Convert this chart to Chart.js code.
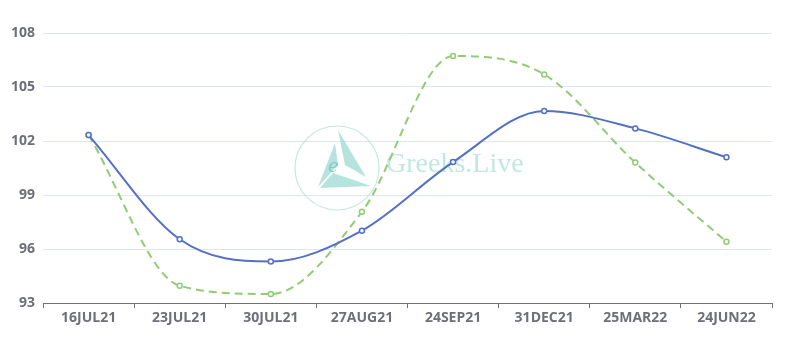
<!DOCTYPE html>
<html>
<head>
<meta charset="utf-8">
<script src="https://cdn.jsdelivr.net/npm/chart.js@4"></script>
<style>
    html, body { margin: 0; padding: 0; background: #fff; }
    #wrap { width: 785px; height: 344px; position: relative; }
</style>
</head>
<body>
<div id="wrap"><canvas id="termChart"></canvas></div>
<script>
var expiries = ['16JUL21', '23JUL21', '30JUL21', '27AUG21', '24SEP21', '31DEC21', '25MAR22', '24JUN22'];
var seriesA = [102.33, 96.54, 95.3, 97.02, 100.83, 103.67, 102.7, 101.1];
var seriesB = [102.33, 93.96, 93.5, 98.07, 106.72, 105.7, 100.8, 96.4];
var yTicks = [93, 96, 99, 102, 105, 108];

var axisGray = '#6E7079';

// faint logo in the middle of the plot
var watermark = {
    id: 'watermark',
    beforeDatasetsDraw: function (chart) {
        var ctx = chart.ctx;
        var cx = 337, cy = 168, r = 42;
        ctx.save();
        ctx.strokeStyle = 'rgba(140, 210, 200, 0.5)';
        ctx.lineWidth = 1.2;
        ctx.beginPath();
        ctx.arc(cx, cy, r, 0, Math.PI * 2);
        ctx.stroke();

        ctx.fillStyle = 'rgba(120, 205, 195, 0.55)';
        ctx.beginPath();
        ctx.moveTo(318, 187);
        ctx.lineTo(335, 143);
        ctx.lineTo(338, 165);
        ctx.closePath();
        ctx.fill();
        ctx.beginPath();
        ctx.moveTo(338, 130);
        ctx.lineTo(366, 177);
        ctx.lineTo(345, 165);
        ctx.closePath();
        ctx.fill();
        ctx.beginPath();
        ctx.moveTo(320, 188);
        ctx.lineTo(371, 186);
        ctx.lineTo(333, 173);
        ctx.closePath();
        ctx.fill();

        ctx.fillStyle = 'rgba(120, 190, 185, 0.7)';
        ctx.font = 'italic 18px "DejaVu Serif", serif';
        ctx.fillText('e', 328, 172);

        ctx.font = '28px "Liberation Serif", serif';
        ctx.fillStyle = 'rgba(150, 215, 205, 0.6)';
        ctx.textBaseline = 'middle';
        ctx.fillText('Greeks.Live', 386, 165);
        ctx.restore();
    }
};

function buildChart() {
    var ctx = document.getElementById('termChart').getContext('2d');
    return new Chart(ctx, {
        type: 'line',
        data: {
            labels: expiries,
            datasets: [
                {
                    data: seriesA,
                    borderColor: '#5470c6',
                    backgroundColor: '#ffffff',
                    borderWidth: 2,
                    cubicInterpolationMode: 'monotone',
                    pointRadius: 2.5,
                    pointBorderWidth: 1.5,
                    pointBackgroundColor: '#ffffff',
                    pointBorderColor: '#5470c6'
                },
                {
                    data: seriesB,
                    borderColor: '#91cc75',
                    backgroundColor: '#ffffff',
                    borderWidth: 2,
                    borderDash: [8, 5],
                    cubicInterpolationMode: 'monotone',
                    pointRadius: 2.5,
                    pointBorderWidth: 1.5,
                    pointBackgroundColor: '#ffffff',
                    pointBorderColor: '#91cc75'
                }
            ]
        },
        options: {
            responsive: true,
            maintainAspectRatio: false,
            animation: false,
            layout: { padding: { top: 33, right: 13, left: 0, bottom: 0 } },
            plugins: {
                legend: { display: false },
                tooltip: { enabled: false }
            },
            scales: {
                x: {
                    offset: true,
                    afterFit: function (s) { s.height = 41; },
                    grid: {
                        offset: true,
                        drawOnChartArea: false,
                        drawTicks: true,
                        tickLength: 5,
                        color: axisGray
                    },
                    border: { display: true, color: axisGray, width: 1 },
                    ticks: {
                        color: axisGray,
                        padding: 2,
                        maxRotation: 0,
                        autoSkip: false,
                        font: { family: '"Open Sans", sans-serif', size: 14, weight: 'bold' }
                    }
                },
                y: {
                    min: yTicks[0],
                    max: yTicks[yTicks.length - 1],
                    afterFit: function (s) { s.width = 43; },
                    afterBuildTicks: function (s) {
                        s.ticks = yTicks.map(v => ({ value: v }));
                    },
                    grid: { color: '#E0E6F1', drawTicks: false },
                    border: { display: false },
                    ticks: {
                        color: axisGray,
                        padding: 8,
                        font: { family: '"Open Sans", sans-serif', size: 14, weight: 'bold' }
                    }
                }
            }
        },
        plugins: [watermark]
    });
}

buildChart();
</script>
</body>
</html>
